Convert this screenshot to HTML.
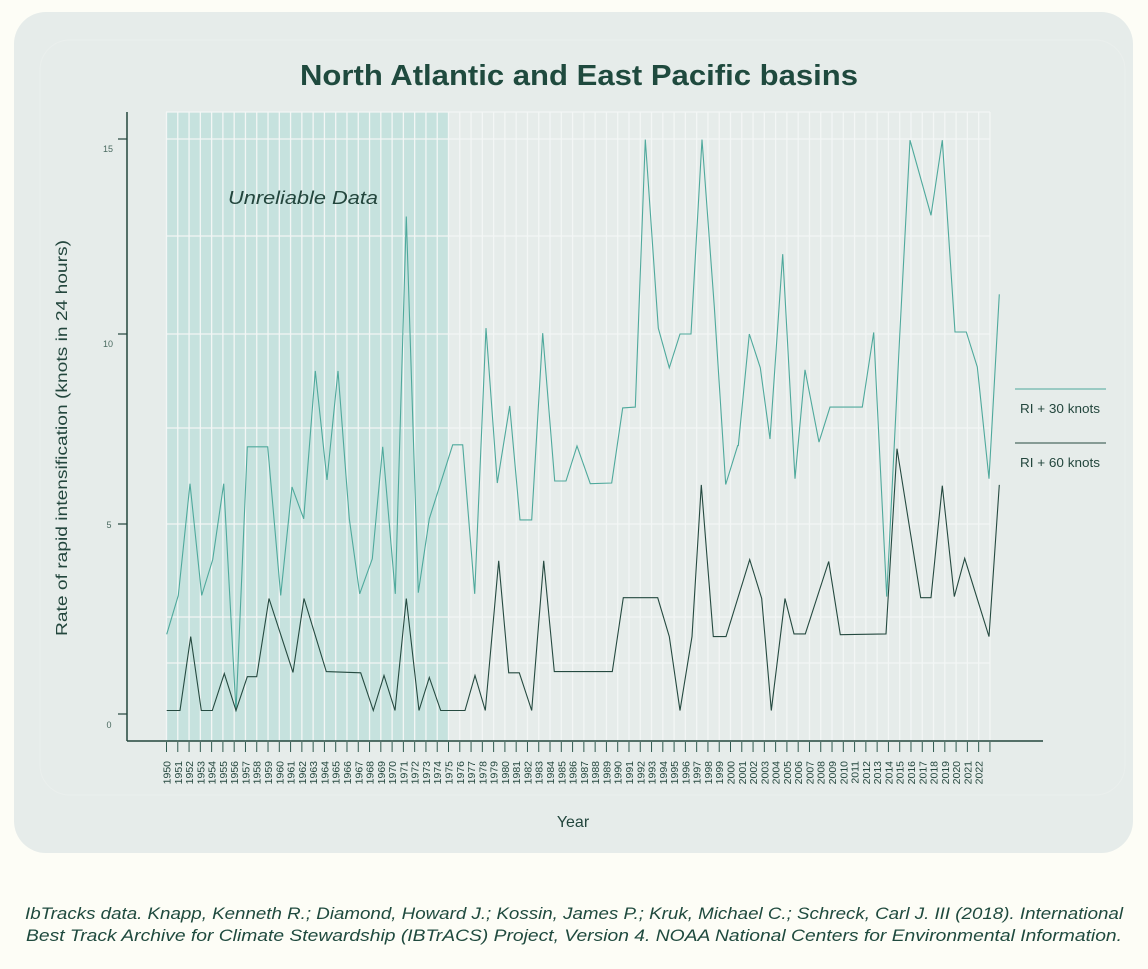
<!DOCTYPE html>
<html><head><meta charset="utf-8"><style>
body{margin:0;background:#fdfdf6;width:1148px;height:964px;overflow:hidden;font-family:"Liberation Sans",sans-serif}
</style></head><body>
<svg id="s" width="1148" height="964" xmlns="http://www.w3.org/2000/svg">
<rect x="14" y="12" width="1119" height="841" rx="32" fill="#e6ecea"/>
<rect x="40" y="40" width="1085" height="755" rx="30" fill="none" stroke="#eaefed" stroke-width="1"/>
<text x="579" y="85" text-anchor="middle" font-size="29" font-weight="bold" fill="#1f4a3e" textLength="558" lengthAdjust="spacingAndGlyphs">North Atlantic and East Pacific basins</text>
<rect x="166.5" y="112.5" width="281.5" height="628" fill="#c6e2de"/>
<g id="grid" stroke="#f3f6f5" stroke-width="1.3"></g>
<text x="228" y="204" font-size="18" font-style="italic" fill="#23463d" textLength="150" lengthAdjust="spacingAndGlyphs">Unreliable Data</text>
<line x1="127" y1="112" x2="127" y2="741" stroke="#23463d" stroke-width="1.5"/>
<line x1="127" y1="741" x2="1043" y2="741" stroke="#23463d" stroke-width="1.5"/>
<g stroke="#23463d" stroke-width="1.2">
<line x1="118" y1="139" x2="127" y2="139"/><line x1="118" y1="334" x2="127" y2="334"/>
<line x1="118" y1="524" x2="127" y2="524"/><line x1="118" y1="714" x2="127" y2="714"/>
</g>
<g font-size="9" fill="#4a6a60" text-anchor="middle">
<text x="108" y="152">15</text><text x="108" y="347">10</text><text x="109" y="528">5</text><text x="109" y="728">0</text>
</g>
<g id="xt" stroke="#2f5a4f" stroke-width="1"></g>
<g id="xl" font-size="10.5" fill="#23463d"></g>
<text transform="translate(67,438) rotate(-90)" text-anchor="middle" font-size="16" fill="#23463d" textLength="396" lengthAdjust="spacingAndGlyphs">Rate of rapid intensification (knots in 24 hours)</text>
<text x="573" y="827" text-anchor="middle" font-size="16" fill="#23463d">Year</text>
<polyline id="teal" fill="none" stroke="#4fa99c" stroke-width="1.1"/>
<polyline id="blk" fill="none" stroke="#254a40" stroke-width="1.1"/>
<line x1="1015" y1="389" x2="1106" y2="389" stroke="#4fa99c" stroke-width="1"/>
<line x1="1015" y1="443" x2="1106" y2="443" stroke="#254a40" stroke-width="1"/>
<text x="1060" y="413" text-anchor="middle" font-size="12.5" fill="#23463d" textLength="80" lengthAdjust="spacingAndGlyphs">RI + 30 knots</text>
<text x="1060" y="467" text-anchor="middle" font-size="12.5" fill="#23463d" textLength="80" lengthAdjust="spacingAndGlyphs">RI + 60 knots</text>
<g font-size="17" font-style="italic" fill="#1f4a3e" text-anchor="middle">
<text x="574" y="919" textLength="1098" lengthAdjust="spacingAndGlyphs">IbTracks data. Knapp, Kenneth R.; Diamond, Howard J.; Kossin, James P.; Kruk, Michael C.; Schreck, Carl J. III (2018). International</text>
<text x="574" y="941" textLength="1096" lengthAdjust="spacingAndGlyphs">Best Track Archive for Climate Stewardship (IBTrACS) Project, Version 4. NOAA National Centers for Environmental Information.</text>
</g>
</svg>
<script>
var NS="http://www.w3.org/2000/svg";
function el(p,t,a,txt){var e=document.createElementNS(NS,t);for(var k in a)e.setAttribute(k,a[k]);if(txt)e.textContent=txt;document.getElementById(p).appendChild(e);}
var sp=11.28;
for(var i=0;i<74;i++){var x=166.5+i*sp;
 el('grid','line',{x1:x,y1:112,x2:x,y2:741});
 el('xt','line',{x1:x,y1:742,x2:x,y2:752});
 if(i<73) el('xl','text',{transform:'translate('+(x+4)+',761) rotate(-90)','text-anchor':'end'},String(1950+i));
}
[112,139,236,334,428,524,617,663].forEach(function(y){el('grid','line',{x1:166,y1:y,x2:990,y2:y});});
function pts(off,arr){var o=[];for(var i=0;i<arr.length;i+=2)o.push((off[0]+arr[i]/3).toFixed(1)+','+(off[1]+arr[i+1]/2.5705).toFixed(1));return o;}
var t4=[20,1322,55,1222,90,935,125,1222,158,1130,191,935,228,1520,262,840,323,840,362,1222,396,943,431,1025,466,645,501,925,534,645,568,1025,599,1218,637,1128,668,840,706,1218,739,248,775,1215,808,1025,878,835];
var t5=[38,835,68,835,104,1218,138,535,172,933,209,735,240,1028,275,1028,308,548,344,928,378,928,411,838,451,935,515,933,548,740,586,738,616,50,655,535,688,637,720,550,753,550,786,50,823,480,857,937,893,837];
var t6=[55,837,88,550,121,637,150,820,188,345,225,922,255,642,297,828,330,738,427,738,461,546,500,1225,540,540,570,52,633,245,667,52,705,545,739,545,772,635,807,922,838,448];
var b4=[20,1518,60,1518,92,1328,124,1518,157,1518,193,1423,228,1518,262,1431,290,1431,327,1230,399,1420,432,1230,499,1418,602,1421,640,1518,672,1428,705,1518,739,1230,777,1518,808,1433,842,1518];
var b5=[75,1518,105,1428,136,1518,176,1133,206,1421,238,1421,275,1518,311,1133,343,1418,517,1418,550,1228,653,1228,688,1328,720,1518,756,1328,784,938,820,1328,857,1328];
var b6=[18,1328,89,1130,125,1230,154,1518,195,1230,222,1321,256,1321,326,1135,361,1323,498,1321,531,845,602,1228,633,1228,667,940,703,1225,734,1127,807,1328,838,938];
document.getElementById('teal').setAttribute('points',pts([160,120],t4).concat(pts([440,120],t5),pts([720,120],t6)).join(' '));
document.getElementById('blk').setAttribute('points',pts([160,120],b4).concat(pts([440,120],b5),pts([720,120],b6)).join(' '));
</script>
</body></html>
